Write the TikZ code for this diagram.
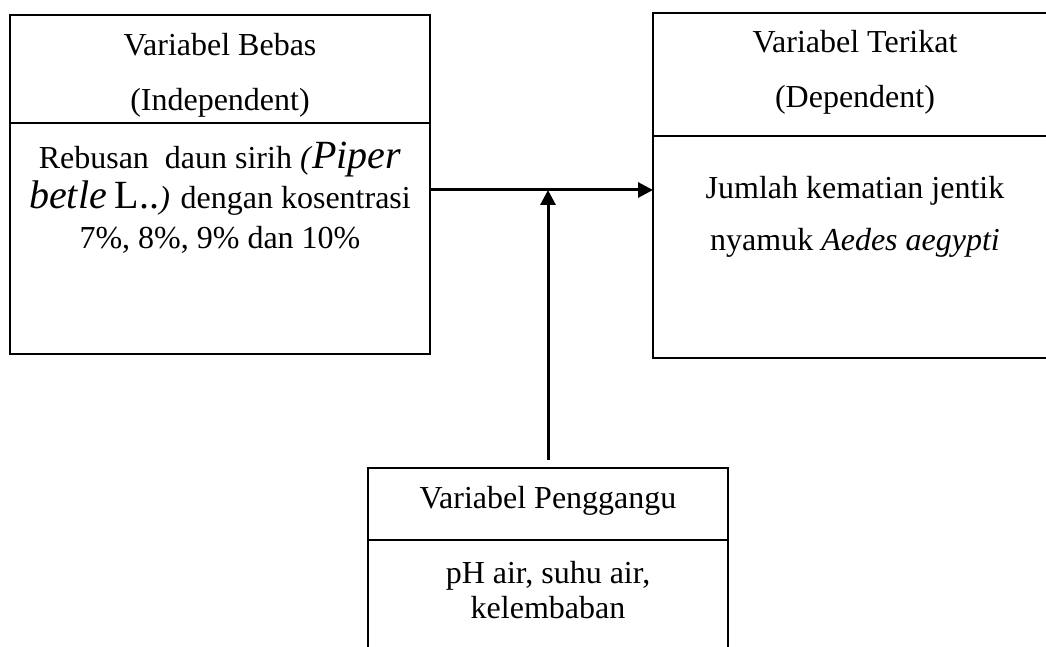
\documentclass[tikz,border=0pt]{standalone}
\usepackage{fontspec}
\setmainfont{Liberation Serif}
\usetikzlibrary{arrows.meta, positioning}

\tikzset{
  kotak/.style={draw, line width=1.1pt, inner sep=0pt, outer sep=0pt, anchor=north west},
  teks/.style={inner sep=0pt, anchor=north, align=center, font=\fontsize{16}{#1}\selectfont},
  teks/.default=27.5pt,
  panah/.style={line width=1.5pt, -{Triangle[length=7.5pt,width=7.5pt]}}
}
\newcommand{\besar}{\fontsize{20}{20}\selectfont}

\begin{document}
\begin{tikzpicture}[x=0.5pt, y=-0.5pt]
  \useasboundingbox (0,0) rectangle (1046,647);
  \clip (0,0) rectangle (1046,647);

  % variabel bebas
  \node[kotak, minimum width=210pt, minimum height=54pt] (bebasA) at (10,15) {};
  \node[kotak, minimum width=210pt, minimum height=115.5pt, below=0pt of bebasA] (bebasB) {};
  \node[teks, below=9pt of bebasA.north] (bebasJudul) {Variabel Bebas\\(Independent)};
  \node[teks=20pt, below=9.5pt of bebasB.north] (bebasIsi)
    {Rebusan\ \ daun sirih \textit{(}{\besar\itshape Piper}\\
     {\besar\itshape betle} {\besar L..}\textit{)} dengan kosentrasi\\
     7\%, 8\%, 9\% dan 10\%};

  % variabel terikat
  \node[kotak, minimum width=202pt, minimum height=61.5pt] (terikatA) at (653,13) {};
  \node[kotak, minimum width=202pt, minimum height=111pt, below=0pt of terikatA] (terikatB) {};
  \node[teks, below=8.5pt of terikatA.north] (terikatJudul) {Variabel Terikat\\(Dependent)};
  \node[teks=26pt, below=20pt of terikatB.north] (terikatIsi)
    {Jumlah kematian jentik\\nyamuk \textit{Aedes aegypti}};

  % variabel pengganggu
  \node[kotak, minimum width=180pt, minimum height=36pt] (gangguA) at (368,468) {};
  \node[kotak, minimum width=180pt, minimum height=70pt, below=0pt of gangguA] (gangguB) {};
  \node[teks, below=9pt of gangguA.north] (gangguJudul) {Variabel Penggangu};
  \node[teks=17.5pt, below=10.5pt of gangguB.north] (gangguIsi) {pH air, suhu air,\\kelembaban};

  \coordinate (temu) at (548,190);
  \draw[panah] (bebasB.east |- temu) -- (terikatB.west |- temu);
  \draw[panah] ([yshift=4pt]gangguA.north) -- (temu);
\end{tikzpicture}
\end{document}
